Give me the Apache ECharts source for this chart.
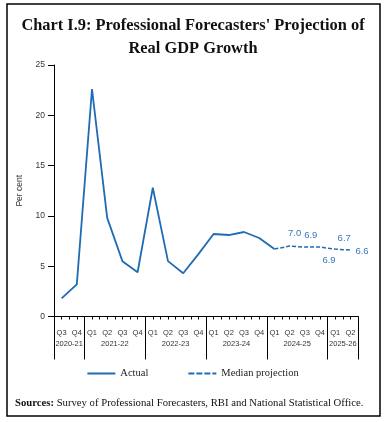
<!DOCTYPE html>
<html><head><meta charset="utf-8">
<script src="https://cdn.jsdelivr.net/npm/echarts@6/dist/echarts.min.js"></script>
<style>html,body{margin:0;padding:0;background:#fff}#c{width:386px;height:422px}</style>
</head><body><div id="c"></div>
<script>
var quarters = ['Q3','Q4','Q1','Q2','Q3','Q4','Q1','Q2','Q3','Q4','Q1','Q2','Q3','Q4','Q1','Q2','Q3','Q4','Q1','Q2'];
var years = ['2020-21','2021-22','2022-23','2023-24','2024-25','2025-26'];
var yearCenters = [1, 4, 8, 12, 16, 19];
var yearBounds = [0, 2, 6, 10, 14, 18, 20];
var actual = [1.8, 3.2, 22.6, 9.8, 5.5, 4.4, 12.8, 5.5, 4.3, 6.2, 8.2, 8.1, 8.4, 7.8, 6.7, null, null, null, null, null];
var projection = [null, null, null, null, null, null, null, null, null, null, null, null, null, null, 6.7, 7.0, 6.9, 6.9, 6.7, 6.6];
var projLabelPos = {15:'top', 16:'top', 17:'bottom', 18:'top', 19:'right'};
var projLabelOffset = {15:[5,-3], 16:[6,-2], 17:[9,3], 18:[9,-1], 19:[0,1]};
var yTicks = [0, 5, 10, 15, 20, 25];

var blue = '#1f6bb4';
var labelBlue = '#3778bf';
var sans = 'Liberation Sans';
var serif = 'Liberation Serif';

var projData = projection.map(function (v, i) {
  if (v === null) return null;
  if (!projLabelPos[i]) return {value: v, label: {show: false}};
  return {value: v, label: {show: true, position: projLabelPos[i], offset: projLabelOffset[i]}};
});

var chart = echarts.init(document.getElementById('c'), null, {renderer: 'canvas'});
chart.setOption({
  animation: false,
  backgroundColor: '#fff',
  title: {
    text: "Chart I.9: Professional Forecasters' Projection of\nReal GDP Growth",
    left: 'center', top: 9,
    textStyle: {fontFamily: serif, fontWeight: 'bold', fontSize: 16.4, lineHeight: 23, color: '#111'}
  },
  grid: {left: 54, right: 28, top: 65, bottom: 105.5, containLabel: false},
  legend: {
    bottom: 38, left: 'center', itemGap: 40, itemWidth: 28, itemHeight: 10,
    textStyle: {fontFamily: serif, fontSize: 10.5, color: '#222'},
    data: [
      {name: 'Actual', icon: 'path://M0,4 L28,4 L28,6 L0,6 Z', itemStyle: {color: blue, opacity: 1}},
      {name: 'Median projection', icon: 'path://M0,4 L6,4 L6,6 L0,6 Z M8,4 L14,4 L14,6 L8,6 Z M16,4 L22,4 L22,6 L16,6 Z M24,4 L28,4 L28,6 L24,6 Z', itemStyle: {color: blue, opacity: 1}}
    ]
  },
  xAxis: [
    {
      type: 'category', data: quarters, boundaryGap: true, position: 'bottom',
      axisLine: {show: true, onZero: false, lineStyle: {color: '#000', width: 1}},
      axisTick: {show: false},
      axisLabel: {interval: 0, margin: 12, fontFamily: sans, fontSize: 7.5, color: '#333'}
    },
    {
      type: 'value', min: 0, max: 20, interval: 0.5, position: 'bottom',
      axisLine: {show: false, onZero: false},
      axisTick: {show: true, length: 3, lineStyle: {color: '#000', width: 1}},
      axisLabel: {show: false}, splitLine: {show: false}
    },
    {
      type: 'value', min: 0, max: 20, position: 'bottom',
      axisLine: {show: false, onZero: false},
      axisTick: {show: true, customValues: yearBounds, length: 43, lineStyle: {color: '#000', width: 1}},
      axisLabel: {show: true, customValues: yearCenters, margin: 23, fontFamily: sans, fontSize: 7.5, color: '#333',
        formatter: function (v) { var k = yearCenters.indexOf(v); return k >= 0 ? years[k] : ''; }},
      splitLine: {show: false}
    }
  ],
  yAxis: {
    type: 'value', min: 0, max: 25, interval: 5,
    name: 'Per cent', nameLocation: 'middle', nameGap: 30, nameRotate: 90,
    nameTextStyle: {fontFamily: sans, fontSize: 8.5, color: '#333'},
    axisLine: {show: true, lineStyle: {color: '#000', width: 1}},
    axisTick: {show: true, length: 6, lineStyle: {color: '#000'}},
    axisLabel: {margin: 9, fontFamily: sans, fontSize: 8.5, color: '#333',
      formatter: function (v) { return yTicks.indexOf(v) >= 0 ? String(v) : ''; }},
    splitLine: {show: false}
  },
  series: [
    {
      name: 'Actual', type: 'line', xAxisIndex: 0, data: actual, symbol: 'none',
      lineStyle: {color: blue, width: 1.8}, itemStyle: {color: blue}
    },
    {
      name: 'Median projection', type: 'line', xAxisIndex: 0, data: projData,
      symbol: 'circle', symbolSize: 0.1, showSymbol: true, showAllSymbol: true,
      lineStyle: {color: blue, width: 1.5, type: [4, 2]}, itemStyle: {color: blue},
      label: {fontFamily: sans, fontSize: 9.5, color: labelBlue,
        formatter: function (p) { return Number(p.value).toFixed(1); }}
    }
  ],
  graphic: [
    {type: 'rect', shape: {x: 7, y: 4, width: 373, height: 412}, style: {fill: null, stroke: '#000', lineWidth: 1.5}, silent: true},
    {type: 'text', left: 15, top: 398, style: {
      text: '{b|Sources:} Survey of Professional Forecasters, RBI and National Statistical Office.',
      rich: {b: {fontFamily: serif, fontWeight: 'bold', fontSize: 10.7, fill: '#111'}},
      fontFamily: serif, fontSize: 10.7, fill: '#111'}}
  ]
});
</script></body></html>
